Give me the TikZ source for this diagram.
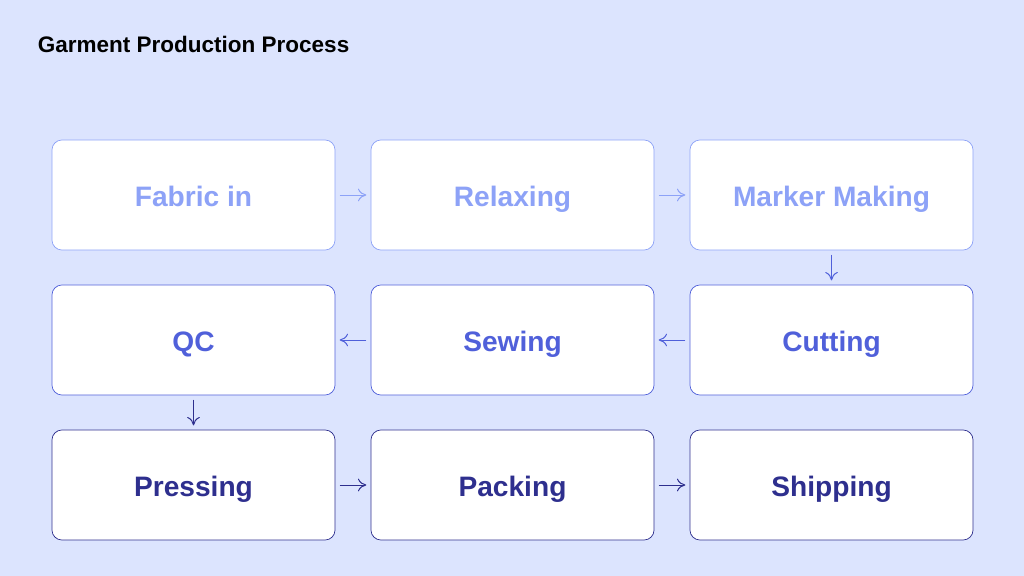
\documentclass[tikz,border=0pt]{standalone}
\usepackage{fontspec}
\setmainfont{Liberation Sans}
\usepackage{tikz}
\usetikzlibrary{arrows.meta, positioning}
\definecolor{bgblue}{HTML}{DCE4FE}
\definecolor{lightc}{HTML}{8DA2F7}
\definecolor{midc}{HTML}{5060DA}
\definecolor{darkc}{HTML}{2E2F8E}
\tikzset{
  stepbox/.style={draw=#1, fill=white, rounded corners=0.25cm, minimum width=7.075cm,
    minimum height=2.75cm, text=#1, font=\fontsize{20}{24}\selectfont\bfseries,
    text height=0.65cm, text depth=0.07cm, line width=0.5pt},
  flow/.style={draw=#1, -{To[length=6pt,width=9pt]}, line width=0.7pt, shorten <=3pt, shorten >=3pt}
}
\begin{document}
\begin{tikzpicture}[x=0.025cm, y=-0.025cm]
  \fill[bgblue] (0,0) rectangle (1024,576);
  \useasboundingbox (0,0) rectangle (1024,576);
  \node[anchor=west, font=\fontsize{16}{19}\selectfont\bfseries] (title) at (33,44) {Garment Production Process};
  % first row
  \node[stepbox=lightc] (fabric) at (193.5,195) {Fabric in};
  \node[stepbox=lightc] (relax) at (512.5,195) {Relaxing};
  \node[stepbox=lightc] (marker) at (831.5,195) {Marker Making};
  % second row
  \node[stepbox=midc] (qc) at (193.5,340) {QC};
  \node[stepbox=midc] (sewing) at (512.5,340) {Sewing};
  \node[stepbox=midc] (cutting) at (831.5,340) {Cutting};
  % third row
  \node[stepbox=darkc] (pressing) at (193.5,485) {Pressing};
  \node[stepbox=darkc] (packing) at (512.5,485) {Packing};
  \node[stepbox=darkc] (shipping) at (831.5,485) {Shipping};
  \draw[flow=lightc] (fabric) -- (relax);
  \draw[flow=lightc] (relax) -- (marker);
  \draw[flow=midc] (marker) -- (cutting);
  \draw[flow=midc] (cutting) -- (sewing);
  \draw[flow=midc] (sewing) -- (qc);
  \draw[flow=darkc] (qc) -- (pressing);
  \draw[flow=darkc] (pressing) -- (packing);
  \draw[flow=darkc] (packing) -- (shipping);
\end{tikzpicture}
\end{document}
